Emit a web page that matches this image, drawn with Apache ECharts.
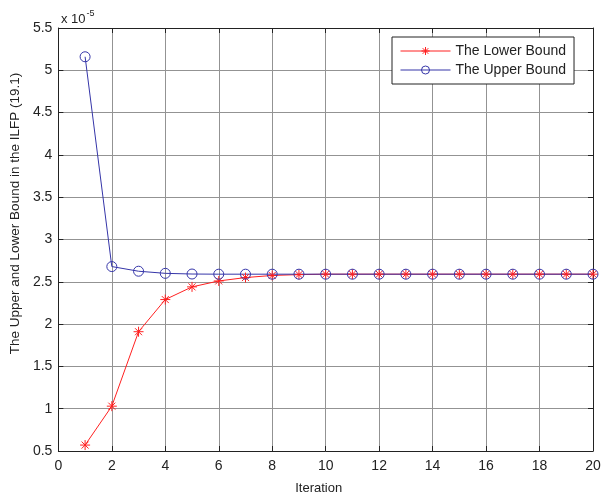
<!DOCTYPE html>
<html>
<head>
<meta charset="utf-8">
<script src="https://cdn.jsdelivr.net/npm/echarts@6/dist/echarts.min.js"></script>
<style>
    html, body { margin: 0; padding: 0; background: #fff; }
    #chart { width: 616px; height: 500px; }
</style>
</head>
<body>
<div id="chart"></div>
<script>
// values are in units of 1e-5
const iterations = [1, 2, 3, 4, 5, 6, 7, 8, 9, 10, 11, 12, 13, 14, 15, 16, 17, 18, 19, 20]
const lowerBound = [0.57, 1.03, 1.91, 2.29, 2.44, 2.51, 2.55, 2.575, 2.585, 2.59, 2.59, 2.59, 2.59, 2.59, 2.59, 2.59, 2.59, 2.59, 2.59, 2.59]
const upperBound = [5.16, 2.68, 2.625, 2.60, 2.592, 2.59, 2.59, 2.59, 2.59, 2.59, 2.59, 2.59, 2.59, 2.59, 2.59, 2.59, 2.59, 2.59, 2.59, 2.59]

const font = 'Liberation Sans, Arial, sans-serif'
const star = 'path://M0,-10L0,10M-10,0L10,0M-7,-7L7,7M-7,7L7,-7'

const chart = echarts.init(document.getElementById('chart'))

const tickOnly = {
    type: 'value',
    axisLine: { show: true, onZero: false, lineStyle: { color: '#222', width: 1 } },
    axisTick: { show: true, inside: true, length: 5, lineStyle: { color: '#222' } },
    axisLabel: { show: false },
    splitLine: { show: false }
}

chart.setOption({
    animation: false,
    textStyle: { fontFamily: font },
    title: {
        text: '{a|x 10}{b|-5}',
        left: 56,
        top: 4,
        textStyle: {
            fontWeight: 'normal',
            rich: {
                a: { fontSize: 13, color: '#222', fontFamily: font, fontWeight: 'normal', verticalAlign: 'bottom' },
                b: { fontSize: 9, color: '#222', fontFamily: font, fontWeight: 'normal', verticalAlign: 'top', padding: [0, 0, 8, 1] }
            }
        }
    },
    grid: { left: 58, right: 23, top: 28, bottom: 49 },
    legend: {
        data: ['The Lower Bound', 'The Upper Bound'],
        orient: 'vertical',
        left: 392,
        top: 37,
        width: 195,
        padding: [7, 8, 7, 8],
        itemGap: 5,
        itemWidth: 50,
        itemHeight: 10,
        lineStyle: { width: 1 },
        itemStyle: { borderWidth: 1 },
        borderColor: '#222',
        borderWidth: 1,
        backgroundColor: '#fff',
        textStyle: { fontSize: 14, color: '#222', fontFamily: font }
    },
    xAxis: [
        {
            type: 'value',
            min: 0,
            max: 20,
            interval: 2,
            name: 'Iteration',
            nameLocation: 'middle',
            nameGap: 31,
            nameTextStyle: { fontSize: 13, color: '#222', fontFamily: font, padding: [0, 14, 0, 0] },
            axisLine: { show: true, onZero: false, lineStyle: { color: '#222', width: 1 } },
            axisTick: { show: true, inside: true, length: 5, lineStyle: { color: '#222' } },
            axisLabel: { fontSize: 14, color: '#222', margin: 8, fontFamily: font },
            splitLine: { show: true, lineStyle: { color: '#939393', width: 1 } }
        },
        Object.assign({ position: 'top', min: 0, max: 20, interval: 2 }, tickOnly)
    ],
    yAxis: [
        {
            type: 'value',
            min: 0.5,
            max: 5.5,
            interval: 0.5,
            name: 'The Upper and Lower Bound in the ILFP (19.1)',
            nameLocation: 'middle',
            nameGap: 32,
            nameTextStyle: { fontSize: 13.5, color: '#222', fontFamily: font, padding: [0, 0, 0, 52] },
            axisLine: { show: true, onZero: false, lineStyle: { color: '#222', width: 1 } },
            axisTick: { show: true, inside: true, length: 5, lineStyle: { color: '#222' } },
            axisLabel: { fontSize: 14, color: '#222', margin: 6, fontFamily: font },
            splitLine: { show: true, lineStyle: { color: '#939393', width: 1 } }
        },
        Object.assign({ position: 'right', min: 0.5, max: 5.5, interval: 0.5 }, tickOnly)
    ],
    series: [
        {
            name: 'The Lower Bound',
            type: 'line',
            data: iterations.map((x, i) => [x, lowerBound[i]]),
            symbol: star,
            symbolSize: 10,
            showAllSymbol: true,
            lineStyle: { color: '#ff2020', width: 1 },
            itemStyle: { color: 'transparent', borderColor: '#ff2020', borderWidth: 1 }
        },
        {
            name: 'The Upper Bound',
            type: 'line',
            data: iterations.map((x, i) => [x, upperBound[i]]),
            symbol: 'circle',
            symbolSize: 10,
            showAllSymbol: true,
            lineStyle: { color: '#3535a8', width: 1 },
            itemStyle: { color: 'transparent', borderColor: '#3535a8', borderWidth: 1 }
        }
    ]
})
</script>
</body>
</html>
